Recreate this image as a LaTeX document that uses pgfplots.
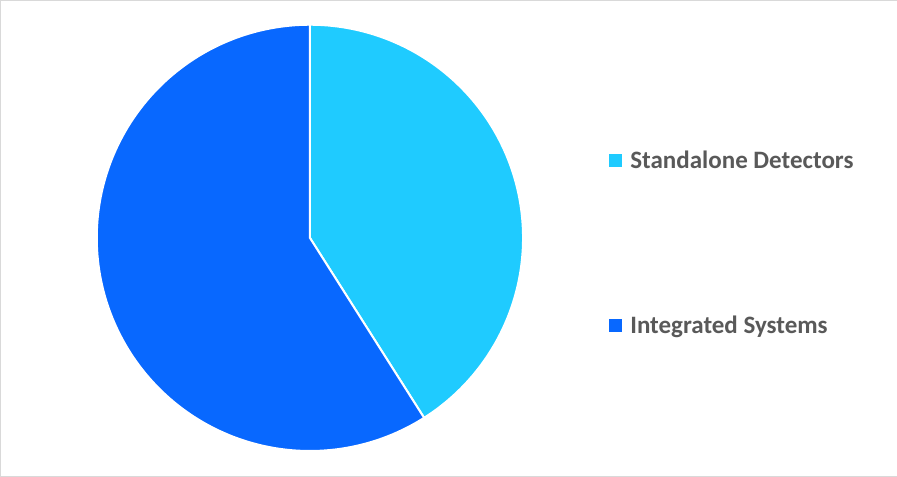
\documentclass[border=0pt]{standalone}
\usepackage{pgfplots}
\pgfplotsset{compat=1.18}
\usepackage{fontspec}
\setmainfont{Carlito}
\definecolor{cStand}{RGB}{31,203,255}
\definecolor{cInteg}{RGB}{8,104,255}
\definecolor{txt}{RGB}{89,89,89}
\definecolor{frame}{RGB}{217,217,217}
% shares in percent
\def\valStand{41}
\def\valInteg{59}
\def\cx{310}\def\cy{239}\def\rr{213}
\begin{document}
\begin{tikzpicture}
\begin{axis}[
    scale only axis, width=897pt, height=477pt,
    xmin=0, xmax=897, ymin=0, ymax=477,
    hide axis, clip=false,
    legend style={at={(axis cs:606,234)}, anchor=west, draw=none,
        font=\fontsize{25}{28}\selectfont\bfseries, text=txt,
        row sep=142pt, column sep=6pt, cells={anchor=west}},
    legend image code/.code={\fill[#1,draw=none] (0pt,-6.5pt) rectangle (13pt,6.5pt);},
]
\draw[frame] (axis cs:0.5,0.5) rectangle (axis cs:896.5,476.5);
\pgfmathsetmacro{\aS}{90-3.6*\valStand}
\addplot[fill=cStand, draw=white, line width=2pt, domain=\aS:90, samples=120]
    ({\cx+\rr*cos(x)},{\cy+\rr*sin(x)}) -- (axis cs:\cx,\cy) -- cycle;
\addlegendentry{Standalone Detectors}
\pgfmathsetmacro{\aI}{\aS-3.6*\valInteg}
\addplot[fill=cInteg, draw=white, line width=2pt, domain=\aI:\aS, samples=160]
    ({\cx+\rr*cos(x)},{\cy+\rr*sin(x)}) -- (axis cs:\cx,\cy) -- cycle;
\addlegendentry{Integrated Systems}
\end{axis}
\end{tikzpicture}
\end{document}
